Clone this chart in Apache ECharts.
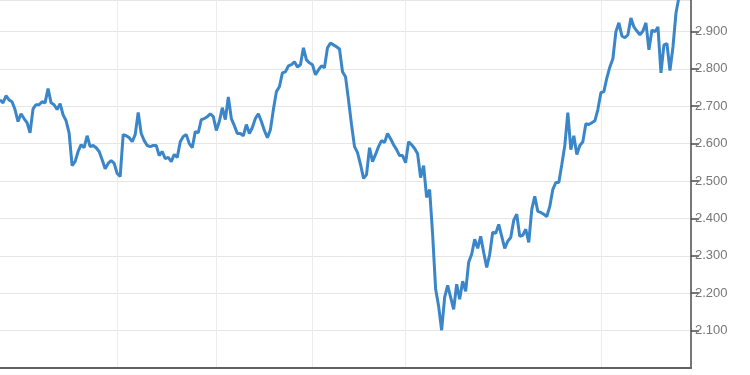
<!DOCTYPE html>
<html>
<head>
<meta charset="utf-8">
<script src="https://cdn.jsdelivr.net/npm/echarts@6/dist/echarts.min.js"></script>
<style>html,body{margin:0;padding:0;background:#fff}#c{width:750px;height:375px}</style>
</head>
<body>
<div id="c"></div>
<script>
// Daily values, one per trading day
var values = [
2.717,2.709,2.728,2.717,2.712,2.691,2.659,2.680,2.667,2.656,
2.629,2.693,2.704,2.704,2.712,2.709,2.747,2.709,2.704,2.691,
2.707,2.677,2.661,2.629,2.541,2.552,2.579,2.597,2.589,2.621,
2.592,2.595,2.589,2.579,2.557,2.533,2.547,2.555,2.547,2.520,
2.512,2.624,2.621,2.616,2.605,2.624,2.683,2.627,2.608,2.595,
2.592,2.595,2.595,2.568,2.579,2.560,2.563,2.552,2.571,2.563,
2.605,2.619,2.624,2.600,2.589,2.632,2.629,2.664,2.667,2.672,
2.680,2.672,2.635,2.659,2.696,2.664,2.725,2.667,2.648,2.627,
2.627,2.621,2.651,2.627,2.643,2.667,2.680,2.659,2.635,2.616,
2.637,2.691,2.739,2.752,2.789,2.792,2.808,2.811,2.819,2.805,
2.811,2.856,2.824,2.816,2.811,2.784,2.797,2.808,2.803,2.856,
2.869,2.864,2.859,2.853,2.792,2.779,2.717,2.651,2.592,2.576,
2.544,2.507,2.517,2.589,2.552,2.571,2.592,2.608,2.603,2.627,
2.613,2.597,2.584,2.568,2.568,2.549,2.605,2.597,2.587,2.573,
2.509,2.541,2.456,2.477,2.357,2.211,2.165,2.101,2.189,2.221,
2.189,2.157,2.224,2.184,2.232,2.205,2.283,2.304,2.344,2.320,
2.352,2.309,2.269,2.304,2.363,2.360,2.384,2.352,2.320,2.339,
2.349,2.395,2.411,2.352,2.355,2.371,2.336,2.424,2.459,2.419,
2.416,2.411,2.405,2.432,2.477,2.496,2.496,2.544,2.595,2.683,
2.584,2.621,2.571,2.595,2.605,2.653,2.651,2.656,2.661,2.691,
2.736,2.739,2.776,2.805,2.827,2.899,2.923,2.888,2.883,2.891,
2.936,2.912,2.901,2.891,2.901,2.923,2.851,2.904,2.899,2.912,
2.789,2.864,2.867,2.795,2.859,2.949,2.992
];
var totalDays = 231;                 // days shown on the axis (last few without data)
var categories = [];
for (var i = 0; i < totalDays; i++) categories.push('D' + (i + 1));
var gridDays = [39, 72, 104, 135, 200]; // days carrying a vertical gridline
var yTicks = ['2.100','2.200','2.300','2.400','2.500','2.600','2.700','2.800','2.900'];

var chart = echarts.init(document.getElementById('c'), null, {renderer: 'canvas'});
chart.setOption({
  animation: false,
  backgroundColor: '#ffffff',
  grid: {left: 0, right: 59, top: 0, bottom: 7, containLabel: false},
  xAxis: {
    type: 'category',
    data: categories,
    boundaryGap: false,
    axisLine: {show: true, lineStyle: {color: '#616161', width: 2}},
    axisTick: {show: false},
    axisLabel: {show: false},
    splitLine: {
      show: true,
      interval: function (idx) { return gridDays.indexOf(idx) >= 0; },
      lineStyle: {color: '#ececec', width: 1}
    }
  },
  yAxis: {
    type: 'value',
    position: 'right',
    min: 2.0,
    max: 2.984,
    interval: 0.1,
    axisLine: {show: true, lineStyle: {color: '#4a4a4a', width: 1.5}},
    axisTick: {show: true, length: 8, lineStyle: {color: '#4a4a4a', width: 1.5}},
    axisLabel: {
      show: true,
      margin: 4,
      color: '#777777',
      fontSize: 13,
      fontFamily: 'Liberation Sans, Arial, sans-serif',
      showMinLabel: false,
      showMaxLabel: false,
      formatter: function (v) {
        var s = v.toFixed(3);
        return yTicks.indexOf(s) >= 0 ? s : '';
      }
    },
    splitLine: {show: true, lineStyle: {color: '#e6e6e6', width: 1}}
  },
  series: [{
    type: 'line',
    data: values,
    showSymbol: false,
    symbol: 'none',
    smooth: false,
    clip: false,
    lineStyle: {color: '#3a86c8', width: 3},
    itemStyle: {color: '#3a86c8'}
  }]
});
</script>
</body>
</html>
